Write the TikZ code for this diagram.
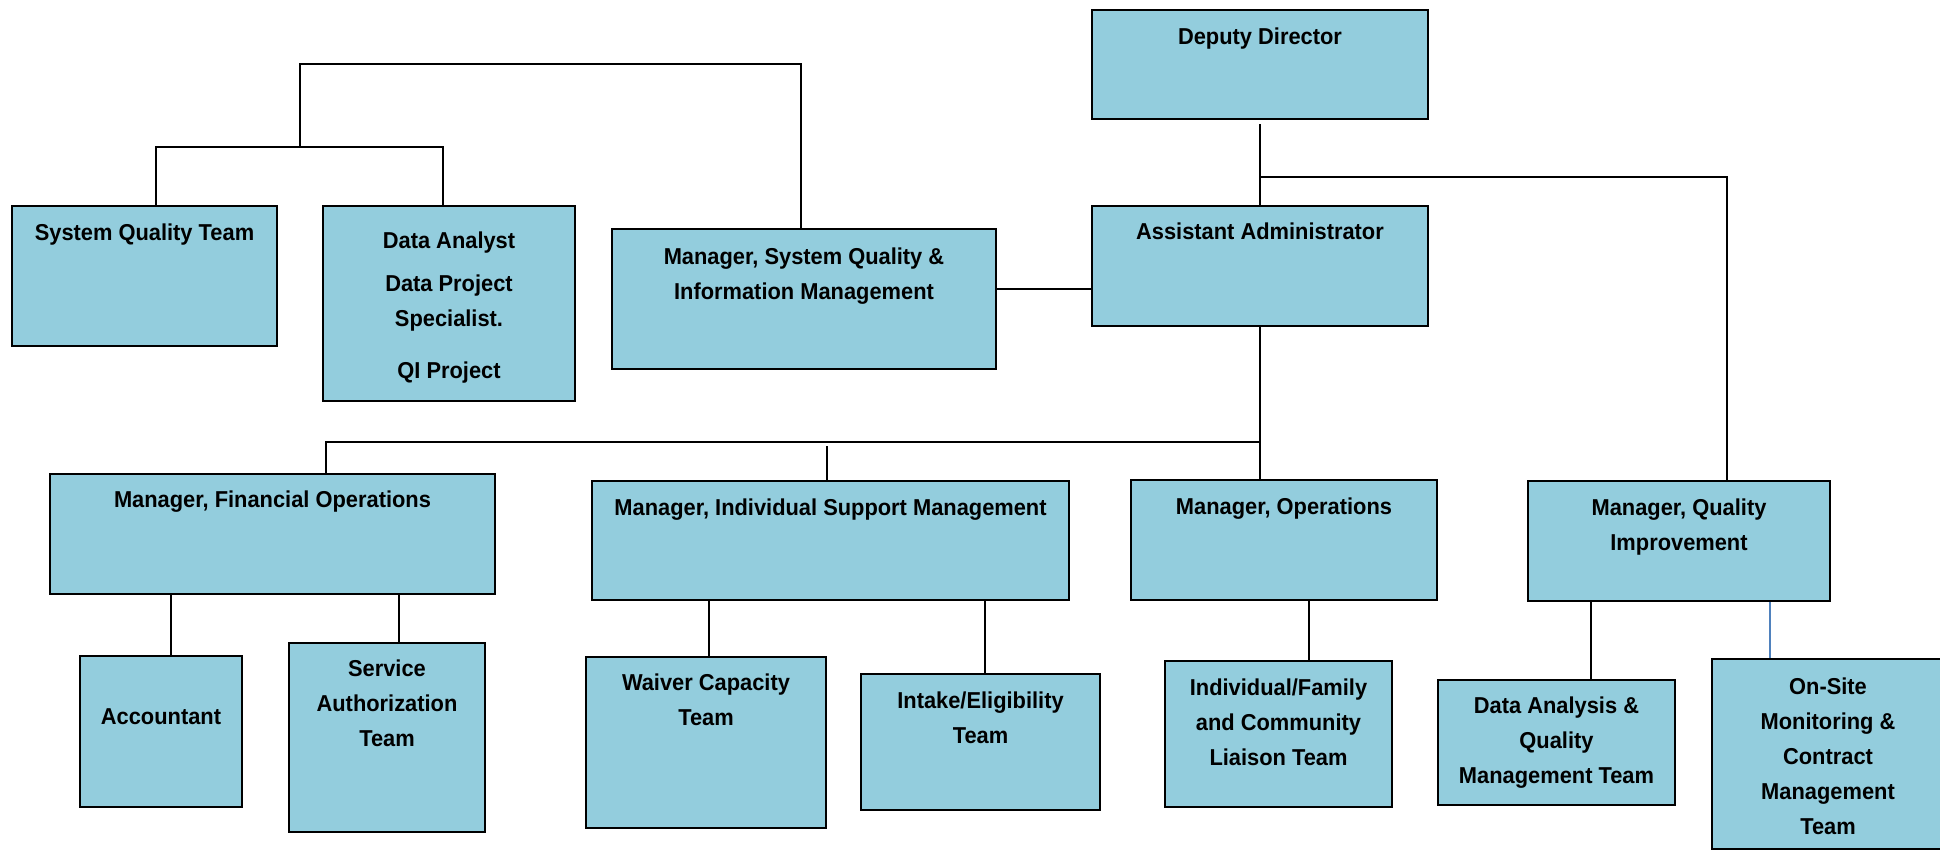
\documentclass[tikz,border=0pt]{standalone}
\usepackage{fontspec}
\setmainfont{Liberation Sans}[FakeStretch=0.95]
\definecolor{boxblue}{HTML}{93CDDD}
\definecolor{linkblue}{HTML}{4F81BD}
\newcommand\firstrow{\rule{0pt}{24pt}}
\tikzset{
  obox/.style={draw=black, fill=boxblue, line width=2.6pt, rectangle, inner sep=0pt},
  lbl/.style={anchor=north, inner sep=0pt, align=center, font=\fontsize{23}{35}\selectfont\bfseries},
  conn/.style={draw=black, line width=1.8pt},
  bconn/.style={draw=linkblue, line width=1.5pt}
}
\begin{document}
\begin{tikzpicture}[x=1pt,y=-1pt]
\useasboundingbox (0,0) rectangle (1940,851);
% boxes
\node[obox, minimum width=336pt, minimum height=109pt] (dd) at (1260,64.5) {};
\node[obox, minimum width=336pt, minimum height=120pt] (aa) at (1260,266) {};
\node[obox, minimum width=384pt, minimum height=140pt] (sqim) at (804,299) {};
\node[obox, minimum width=265pt, minimum height=140pt] (sqt) at (144.5,276) {};
\node[obox, minimum width=252pt, minimum height=195pt] (da) at (449,303.5) {};
\node[obox, minimum width=445pt, minimum height=120pt] (mfo) at (272.5,534) {};
\node[obox, minimum width=477pt, minimum height=119pt] (mism) at (830.5,540.5) {};
\node[obox, minimum width=306pt, minimum height=120pt] (mops) at (1284,540) {};
\node[obox, minimum width=302pt, minimum height=120pt] (mqi) at (1679,541) {};
\node[obox, minimum width=162pt, minimum height=151pt] (acc) at (161,731.5) {};
\node[obox, minimum width=196pt, minimum height=189pt] (sat) at (387,737.5) {};
\node[obox, minimum width=240pt, minimum height=171pt] (wct) at (706,742.5) {};
\node[obox, minimum width=239pt, minimum height=136pt] (intake) at (980.5,742) {};
\node[obox, minimum width=227pt, minimum height=146pt] (ifc) at (1278.5,734) {};
\node[obox, minimum width=237pt, minimum height=125pt] (daqm) at (1556.5,742.5) {};
\node[obox, minimum width=232pt, minimum height=190pt] (onsite) at (1828,754) {};
% labels
\node[lbl] (t-dd) at ([yshift=-11.2]dd.north) {\firstrow Deputy Director};
\node[lbl] (t-aa) at ([yshift=-10.2]aa.north) {\firstrow Assistant Administrator};
\node[lbl] (t-sqim) at ([yshift=-12.2]sqim.north) {\firstrow Manager, System Quality \&\\Information Management};
\node[lbl] (t-sqt) at ([yshift=-11.2]sqt.north) {\firstrow System Quality Team};
\node[lbl] (t-da) at ([yshift=-19.2]da.north) {\firstrow Data Analyst\\[8pt]Data Project\\Specialist.\\[17pt]QI Project};
\node[lbl] (t-mfo) at ([yshift=-10.2]mfo.north) {\firstrow Manager, Financial Operations};
\node[lbl] (t-mism) at ([yshift=-11.2]mism.north) {\firstrow Manager, Individual Support Management};
\node[lbl] (t-mops) at ([yshift=-11.2]mops.north) {\firstrow Manager, Operations};
\node[lbl] (t-mqi) at ([yshift=-11.2]mqi.north) {\firstrow Manager, Quality\\Improvement};
\node[lbl] (t-acc) at ([yshift=-45.2]acc.north) {\firstrow Accountant};
\node[lbl] (t-sat) at ([yshift=-10.2]sat.north) {\firstrow Service\\Authorization\\Team};
\node[lbl] (t-wct) at ([yshift=-10.2]wct.north) {\firstrow Waiver Capacity\\Team};
\node[lbl] (t-intake) at ([yshift=-11.2]intake.north) {\firstrow Intake/Eligibility\\Team};
\node[lbl] (t-ifc) at ([yshift=-11.2]ifc.north) {\firstrow Individual/Family\\and Community\\Liaison Team};
\node[lbl] (t-daqm) at ([yshift=-10.2]daqm.north) {\firstrow Data Analysis \&\\Quality\\Management Team};
\node[lbl] (t-onsite) at ([yshift=-12.2]onsite.north) {\firstrow On-Site\\Monitoring \&\\Contract\\Management\\Team};
% helper coordinates
\coordinate (jq) at (1260,177);
\coordinate (qx) at (1727,0);
\coordinate (hy) at (0,289);
\coordinate (tA) at (801,64);
\coordinate (tB) at (300,64);
\coordinate (tC) at (300,147);
\coordinate (x156) at (156,147);
\coordinate (x443) at (443,147);
\coordinate (bus) at (1260,442);
\coordinate (bf) at (326,442);
\coordinate (bi) at (827,446);
\coordinate (c1) at (171,0);
\coordinate (c2) at (399,0);
\coordinate (c3) at (709,0);
\coordinate (c4) at (985,0);
\coordinate (c5) at (1309,0);
\coordinate (c6) at (1591,0);
\coordinate (c7) at (1770,0);
% connectors
\draw[conn] ([yshift=-4pt]dd.south) -- (aa.north);
\draw[conn] (jq) -| (qx |- mqi.north);
\draw[conn] (sqim.east |- hy) -- (aa.west |- hy);
\draw[conn] (tA |- sqim.north) -- (tA) -- (tB) -- (tC);
\draw[conn] (x156 |- sqt.north) -- (x156) -- (x443) -- (x443 |- da.north);
\draw[conn] (aa.south) -- (aa.south |- mops.north);
\draw[conn] (bf |- mfo.north) -- (bf) -- (bus);
\draw[conn] (bi) -- (bi |- mism.north);
\draw[conn] (c1 |- mfo.south) -- (c1 |- acc.north);
\draw[conn] (c2 |- mfo.south) -- (c2 |- sat.north);
\draw[conn] (c3 |- mism.south) -- (c3 |- wct.north);
\draw[conn] (c4 |- mism.south) -- (c4 |- intake.north);
\draw[conn] (c5 |- mops.south) -- (c5 |- ifc.north);
\draw[conn] (c6 |- mqi.south) -- (c6 |- daqm.north);
\draw[bconn] (c7 |- mqi.south) -- (c7 |- onsite.north);
\end{tikzpicture}
\end{document}
